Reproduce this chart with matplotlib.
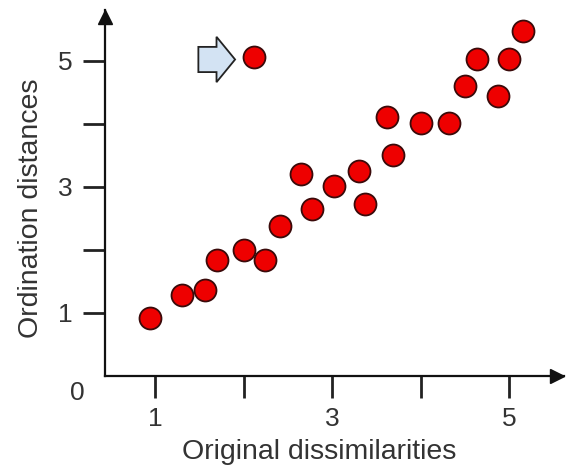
import matplotlib
matplotlib.use("Agg")
import matplotlib.pyplot as plt
import matplotlib.patches as mpatches

plt.rcParams['font.family'] = ['Liberation Sans', 'DejaVu Sans']

# Original dissimilarities vs. ordination distances
dissim = [0.94, 1.31, 1.56, 1.70, 2.01, 2.24, 2.41, 2.65, 2.77, 3.02, 3.31,
          3.37, 3.62, 3.69, 4.00, 4.32, 4.50, 4.64, 4.88, 5.00, 5.16]
ord_dist = [0.92, 1.28, 1.36, 1.83, 2.00, 1.83, 2.37, 3.20, 2.65, 3.01, 3.25,
            2.73, 4.11, 3.50, 4.01, 4.01, 4.60, 5.02, 4.43, 5.02, 5.47]
# The poorly fitted sample, flagged by the arrow
outlier_x = [2.12]
outlier_y = [5.05]

tick_pos = [1, 2, 3, 4, 5]
tick_labels = ["1", "", "3", "", "5"]

W, H = 569, 466
fig = plt.figure(figsize=(W / 100, H / 100), dpi=100)

x0, x1 = 0.435, 5.62
y0, y1 = 0.0, 5.8
left_px, bottom_px = 105, 375.5
w_px = (x1 - x0) * 88.5
h_px = (y1 - y0) * 63
ax = fig.add_axes([left_px / W, (H - bottom_px) / H, w_px / W, h_px / H])
ax.set_xlim(x0, x1)
ax.set_ylim(y0, y1)

for s in ("top", "right"):
    ax.spines[s].set_visible(False)
for s in ("left", "bottom"):
    ax.spines[s].set_linewidth(1.6)
    ax.spines[s].set_color("#111111")

# arrowheads at the axis ends
ax.plot(0.985, 0, marker=">", markersize=10, color="#111111",
        transform=ax.transAxes, clip_on=False)
ax.plot(0, 0.982, marker="^", markersize=10, color="#111111",
        transform=ax.transAxes, clip_on=False)

ax.set_xticks(tick_pos)
ax.set_xticklabels(tick_labels)
ax.set_yticks(tick_pos)
ax.set_yticklabels(tick_labels)
ax.tick_params(axis="both", direction="out", length=16, width=2,
               color="#222222", labelsize=19, labelcolor="#333333")
ax.tick_params(axis="x", pad=7)
ax.tick_params(axis="y", pad=7)

ax.text(0.119, -0.28, "0", fontsize=19, color="#333333",
        ha="center", va="center", clip_on=False)

ax.scatter(dissim + outlier_x, ord_dist + outlier_y, s=250, c="#ee0000",
           edgecolors="#3a0a0a", linewidths=1.3, zorder=3, clip_on=False)

# block arrow pointing at the outlier
arrow = mpatches.FancyArrow(1.49, 5.016, 0.415, 0.0, width=0.40,
                            head_width=0.72, head_length=0.21,
                            length_includes_head=True,
                            facecolor="#d3e3f3", edgecolor="#222222",
                            linewidth=1.3, zorder=3)
ax.add_patch(arrow)

fig.text(319 / W, 1 - 452 / H, "Original dissimilarities", fontsize=20.5,
         color="#333333", ha="center", va="center")
fig.text(31 / W, 1 - 208 / H, "Ordination distances", fontsize=20.5,
         color="#333333", ha="center", va="center", rotation=90)

fig.savefig("out.png", dpi=100)
